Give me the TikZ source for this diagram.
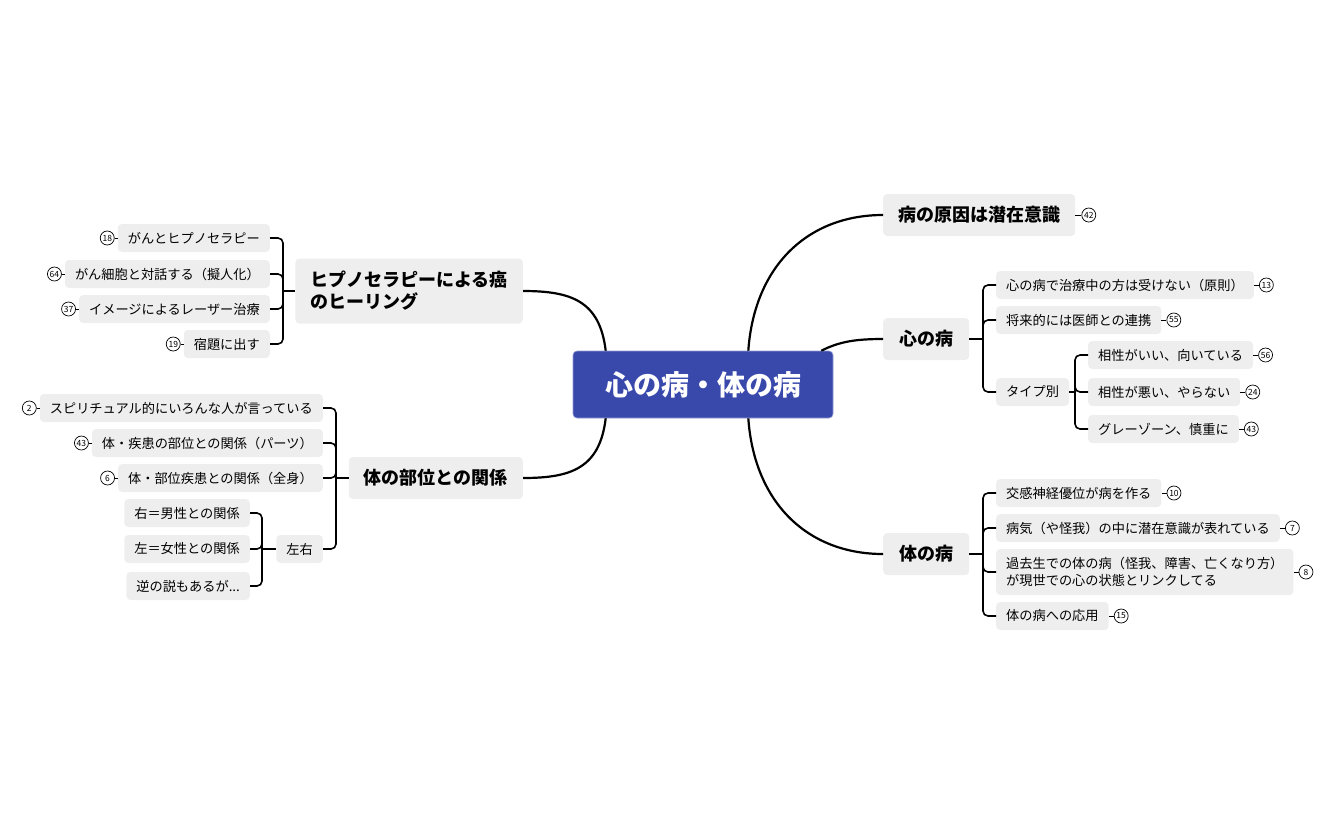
\documentclass[tikz,border=0pt]{standalone}
\usepackage{fontspec}
\setmainfont{Noto Sans CJK JP}
\usetikzlibrary{positioning}
\definecolor{topicblue}{RGB}{57,73,171}
\definecolor{boxgray}{RGB}{238,238,238}

\begin{document}
\begin{tikzpicture}[x=1pt,y=-1pt]
    \tikzstyle{root}=[fill=topicblue, draw=topicblue!55!white, line width=0.6pt, rounded corners=4pt, text=white, font=\fontsize{28}{32}\selectfont\bfseries, minimum width=260pt, minimum height=67pt]
    \tikzstyle{main}=[fill=boxgray, rounded corners=4pt, font=\fontsize{18}{22}\selectfont\bfseries, inner xsep=15pt, minimum width=86pt, minimum height=42pt]
    \tikzstyle{sub}=[fill=boxgray, rounded corners=4pt, font=\fontsize{13.2}{17}\selectfont, inner xsep=10pt, minimum height=28pt]
    \tikzstyle{badge}=[circle, draw, line width=0.7pt, inner sep=0pt, minimum size=14pt, font=\fontsize{8.5}{9}\selectfont]
    \tikzstyle{stem}=[line width=2.2pt]
    \tikzstyle{fork}=[line width=1.6pt, rounded corners=5pt]
    \tikzstyle{tick}=[line width=1pt]

    \useasboundingbox (0,0) rectangle (1332,825);

    \node[root] (c) at (703,384.5) {心の病・体の病};

    % right side
    \node[main, anchor=west] (r1) at (883,215) {病の原因は潜在意識};
    \node[main, anchor=west] (r2) at (883,339) {心の病};
    \node[main, anchor=west] (r3) at (883,554) {体の病};
    \node[badge, right=6pt of r1] (r1n) {42};

    \node[sub, anchor=west] (r2a) at (996,285) {心の病で治療中の方は受けない（原則）};
    \node[sub, anchor=west] (r2b) at (996,320) {将来的には医師との連携};
    \node[sub, anchor=west] (r2c) at (996,392) {タイプ別};
    \node[sub, anchor=west] (r2c1) at (1088,355) {相性がいい、向いている};
    \node[sub, anchor=west] (r2c2) at (1088,392) {相性が悪い、やらない};
    \node[sub, anchor=west] (r2c3) at (1088,429) {グレーゾーン、慎重に};
    \node[badge, right=5pt of r2a] (r2an) {13};
    \node[badge, right=5pt of r2b] (r2bn) {55};
    \node[badge, right=5pt of r2c1] (r2c1n) {56};
    \node[badge, right=5pt of r2c2] (r2c2n) {24};
    \node[badge, right=5pt of r2c3] (r2c3n) {43};

    \node[sub, anchor=west] (r3a) at (996,493) {交感神経優位が病を作る};
    \node[sub, anchor=west] (r3b) at (996,528) {病気（や怪我）の中に潜在意識が表れている};
    \node[sub, anchor=west, align=left, minimum height=46pt] (r3c) at (996,572) {過去生での体の病（怪我、障害、亡くなり方）\\が現世での心の状態とリンクしてる};
    \node[sub, anchor=west] (r3d) at (996,616) {体の病への応用};
    \node[badge, right=5pt of r3a] (r3an) {10};
    \node[badge, right=5pt of r3b] (r3bn) {7};
    \node[badge, right=5pt of r3c] (r3cn) {8};
    \node[badge, right=5pt of r3d] (r3dn) {15};

    % left side
    \node[main, anchor=east, align=left, minimum height=65pt] (l1) at (523,291) {ヒプノセラピーによる癌\\のヒーリング};
    \node[main, anchor=east, minimum width=174pt] (l2) at (523,478) {体の部位との関係};

    \node[sub, anchor=east] (l1a) at (270,238) {がんとヒプノセラピー};
    \node[sub, anchor=east] (l1b) at (270,274) {がん細胞と対話する（擬人化）};
    \node[sub, anchor=east] (l1c) at (270,309) {イメージによるレーザー治療};
    \node[sub, anchor=east] (l1d) at (270,344) {宿題に出す};
    \node[badge, left=3pt of l1a] (l1an) {18};
    \node[badge, left=3pt of l1b] (l1bn) {64};
    \node[badge, left=3pt of l1c] (l1cn) {37};
    \node[badge, left=3pt of l1d] (l1dn) {19};

    \node[sub, anchor=east] (l2a) at (323,408) {スピリチュアル的にいろんな人が言っている};
    \node[sub, anchor=east] (l2b) at (323,443) {体・疾患の部位との関係（パーツ）};
    \node[sub, anchor=east] (l2c) at (323,478) {体・部位疾患との関係（全身）};
    \node[sub, anchor=east] (l2d) at (323,549) {左右};
    \node[sub, anchor=east] (l2d1) at (250,513) {右＝男性との関係};
    \node[sub, anchor=east] (l2d2) at (250,549) {左＝女性との関係};
    \node[sub, anchor=east] (l2d3) at (250,586) {逆の説もあるが...};
    \node[badge, left=3pt of l2a] (l2an) {2};
    \node[badge, left=3pt of l2b] (l2bn) {43};
    \node[badge, left=3pt of l2c] (l2cn) {6};

    % stems from the centre
    \draw[stem] ([xshift=-85pt]c.north east) .. controls +(6,-85) and +(-75,0) .. (r1.west);
    \draw[stem] ([xshift=-12pt]c.north east) .. controls +(18,-9) and +(-28,0) .. (r2.west);
    \draw[stem] ([xshift=-85pt]c.south east) .. controls +(6,85) and +(-75,0) .. (r3.west);
    \draw[stem] ([xshift=33pt]c.north west) .. controls +(-6,-50) and +(48,0) .. (l1.east);
    \draw[stem] ([xshift=33pt]c.south west) .. controls +(-6,50) and +(48,0) .. (l2.east);

    % forks
    \coordinate (k2) at (983,339);
    \coordinate (k2c) at (1075,392);
    \coordinate (k3) at (983,554);
    \coordinate (k4) at (283,291);
    \coordinate (k5) at (336,478);
    \coordinate (k6) at (262,549);

    \draw[fork] (r2) -- (k2);
    \draw[fork] (k2) |- (r2a.west);
    \draw[fork] (k2) |- (r2b.west);
    \draw[fork] (k2) |- (r2c.west);
    \draw[fork] (r2c) -- (k2c);
    \draw[fork] (k2c) |- (r2c1.west);
    \draw[fork] (k2c) |- (r2c2.west);
    \draw[fork] (k2c) |- (r2c3.west);

    \draw[fork] (r3) -- (k3);
    \draw[fork] (k3) |- (r3a.west);
    \draw[fork] (k3) |- (r3b.west);
    \draw[fork] (k3) |- (r3c.west);
    \draw[fork] (k3) |- (r3d.west);

    \draw[fork] (l1) -- (k4);
    \draw[fork] (k4) |- (l1a.east);
    \draw[fork] (k4) |- (l1b.east);
    \draw[fork] (k4) |- (l1c.east);
    \draw[fork] (k4) |- (l1d.east);

    \draw[fork] (l2) -- (k5);
    \draw[fork] (k5) |- (l2a.east);
    \draw[fork] (k5) |- (l2b.east);
    \draw[fork] (k5) |- (l2c.east);
    \draw[fork] (k5) |- (l2d.east);
    \draw[fork] (l2d) -- (k6);
    \draw[fork] (k6) |- (l2d1.east);
    \draw[fork] (k6) |- (l2d2.east);
    \draw[fork] (k6) |- (l2d3.east);

    % ticks to the badges
    \draw[tick] (r1) -- (r1n);
    \draw[tick] (r2a) -- (r2an);
    \draw[tick] (r2b) -- (r2bn);
    \draw[tick] (r2c1) -- (r2c1n);
    \draw[tick] (r2c2) -- (r2c2n);
    \draw[tick] (r2c3) -- (r2c3n);
    \draw[tick] (r3a) -- (r3an);
    \draw[tick] (r3b) -- (r3bn);
    \draw[tick] (r3c) -- (r3cn);
    \draw[tick] (r3d) -- (r3dn);
    \draw[tick] (l1a) -- (l1an);
    \draw[tick] (l1b) -- (l1bn);
    \draw[tick] (l1c) -- (l1cn);
    \draw[tick] (l1d) -- (l1dn);
    \draw[tick] (l2a) -- (l2an);
    \draw[tick] (l2b) -- (l2bn);
    \draw[tick] (l2c) -- (l2cn);
\end{tikzpicture}
\end{document}
